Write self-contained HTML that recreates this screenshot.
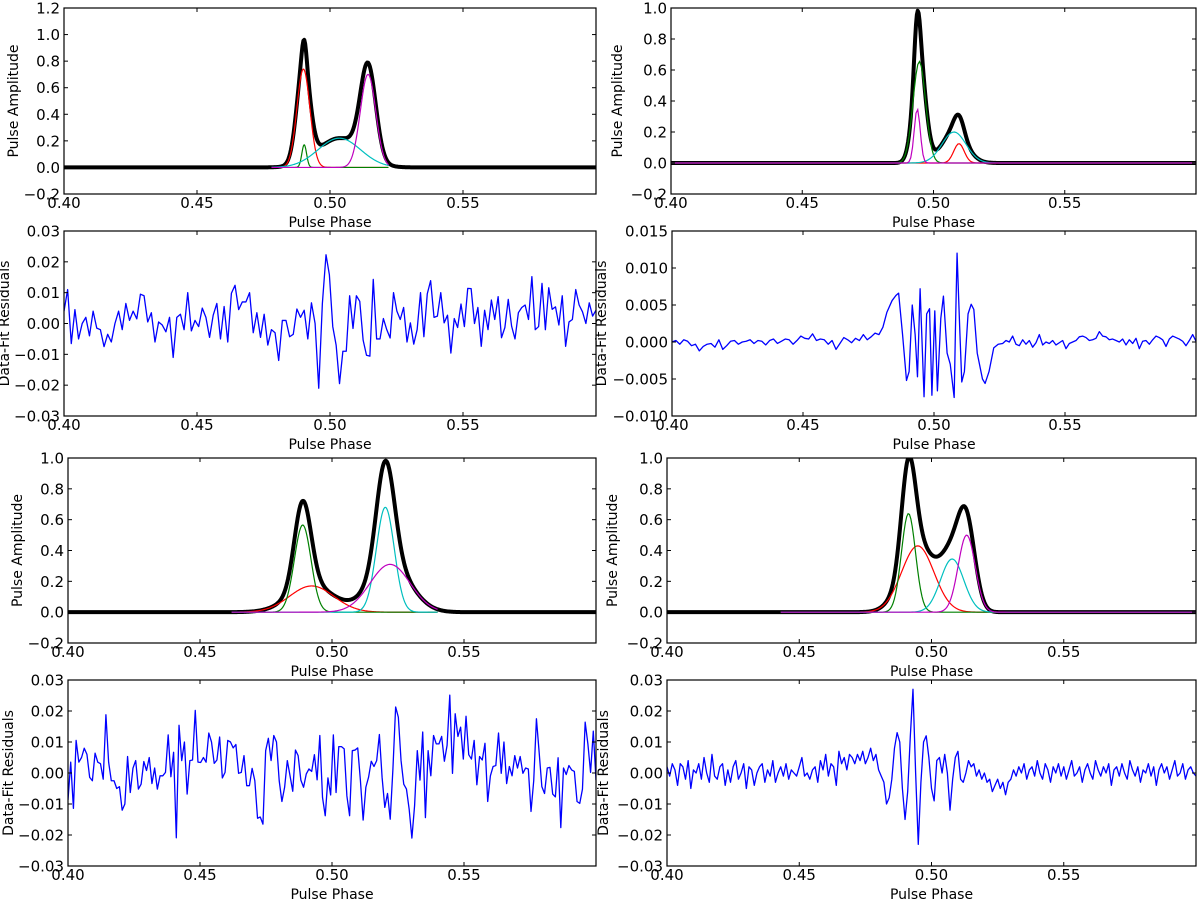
<!DOCTYPE html>
<html><head><meta charset="utf-8"><title>Pulse profile fits</title>
<style>
html,body{margin:0;padding:0;background:#fff;}
svg{display:block;}
text{font-family:"DejaVu Sans","Liberation Sans",sans-serif;fill:#000;}
</style></head>
<body>
<svg id="fig" width="1200" height="900" viewBox="0 0 1200 900" xmlns="http://www.w3.org/2000/svg"></svg>
<script>
// ---------- data ----------
const xTicks = [0.40, 0.45, 0.50, 0.55];
const xTickLabels = ["0.40", "0.45", "0.50", "0.55"];
const compColors = ["#ff0000", "#008000", "#00bfbf", "#bf00bf"];
const compNames = ["red", "green", "cyan", "magenta"];

// Panel A (top-left) gaussian components: red, green, cyan, magenta
const aAmp = [0.74, 0.17, 0.22, 0.70];
const aCen = [0.4900, 0.4903, 0.5035, 0.5143];
const aSig = [0.00244, 0.00090, 0.0080, 0.0029];
// Panel B (top-right)
const bAmp = [0.125, 0.655, 0.20, 0.35];
const bCen = [0.5097, 0.4946, 0.5078, 0.4938];
const bSig = [0.0020, 0.0024, 0.0046, 0.00114];
// Panel C (third row left)
const cAmp = [0.17, 0.565, 0.68, 0.31];
const cCen = [0.4923, 0.4889, 0.5202, 0.5220];
const cSig = [0.0084, 0.00315, 0.0034, 0.0076];
// Panel D (third row right)
const dAmp = [0.43, 0.64, 0.345, 0.50];
const dCen = [0.4948, 0.4913, 0.5078, 0.5133];
const dSig = [0.0061, 0.00266, 0.0044, 0.0032];

// Residuals (units of 0.001)
const resA = [4,11,-6.5,4.5,-5,0,2,-4,4,-1.5,-2,-7.5,-3.5,-6,0,4,-2,6.5,1,4,1.5,9.5,9,0.5,3.5,-6,0.5,-0.5,-2.7,2,-11,2,3,-2,10,-2.4,1,-1,5,2,-4.5,2.7,6.5,-5,5.5,-6,9.8,12.4,4.5,7,7,10,-3,3.5,-4.5,3,-7,-2,-3,-12,1,1,-4.3,-3.5,4.7,2,4.3,-5,6.7,0,-21,6.5,22.3,15.8,-1,-7,-19.5,-9,-9,9,-1.6,9,7.2,-5.4,-10.3,-10.6,14.3,-5,-5,1.6,-2,-4.7,10,4,1.3,5.2,-6,0.2,-6.7,-2,10,-4.3,9.6,13.9,2,2.4,10,0.2,2.7,-9.6,1.6,-1.3,6.3,-1,11.4,11.3,0,5.2,-7.4,4.3,-2,7.6,1.3,8.7,-4.6,-1.3,7.8,-0.9,-5,3.5,5.2,6,1.3,15.2,-2,-1,13,-2,11.6,4.6,5.4,-0.5,9,-7.4,0.5,1.3,11,6,3.8,0,6.7,2.4,4.3];
const resASpikeIndex = 72;
const resASpikePhase = 0.4985;
const resBLeft = [0.0,0.2,-0.3,0.3,0.1,-0.5,-0.3,-1.2,-0.6,-0.3,-0.2,-0.7,0.3,-1.0,-0.5,0.1,0.2,-0.3,0.0,0.1,0.3,-0.2,0.2,0.1,-0.4,0.2,0.4,-0.2,0.1,0.4,0.3,-0.3,0.2,0.8,0.5,0.4,1.1,0.2,0.4,0.3,-0.3,0.2,-1.0,-0.2,0.6,0.3,-0.1,0.5,0.2,1.0,0.3,0.7,1.2];
const resBBurstPhase = [0.4790,0.4805,0.4820,0.4840,0.4855,0.4865,0.4880,0.4895,0.4905,0.4917,0.4928,0.4937,0.4947,0.4962,0.4972,0.4983,0.4992,0.5003,0.5013,0.5026,0.5036,0.5050,0.5062,0.5077,0.5082,0.5088,0.5098,0.5106,0.5116,0.5130,0.5142,0.5152,0.5165,0.5185,0.5195,0.5210,0.5228,0.5245];
const resBBurst = [1.0,2.0,4.0,5.6,6.3,6.6,1.0,-5.2,-4.0,5.0,1.0,-4.7,7.2,-7.4,3.8,4.5,-7.2,4.2,-6.6,3.2,6.2,-1.5,-3.0,-7.5,2.0,12.0,2.0,-5.4,-4.0,3.8,5.1,4.4,-1.5,-5.0,-5.6,-4.0,-0.8,-0.3];
const resBRight = [-0.2,0.2,0.0,0.8,-0.3,-0.5,0.3,-0.3,0.2,-0.7,-0.1,1.0,-0.4,0.0,-0.2,0.2,-0.4,-0.1,0.2,-0.9,-0.2,0.0,0.2,0.7,0.8,0.6,0.2,0.3,0.5,1.4,0.8,0.7,0.3,0.4,0.2,0.0,0.4,-0.4,0.3,-0.2,0.5,-0.9,0.1,0.2,-0.3,0.3,0.8,0.6,0.3,-0.6,0.4,0.8,0.6,0.4,0.1,-0.5,0.2,1.0,0.1];
const resC = [-8.7,3.5,-11.4,10.5,3.5,5,8,6,-1.4,-2.5,6.4,3.5,3,-2,18.8,3.5,-2.5,-2.5,-5,-4.4,-12,-10,5.3,-6.3,1.6,4,-5.2,-3.6,3.7,0.8,5,-3.4,1.6,-5.2,-0.9,-0.9,0.2,12.3,-1.2,6.7,-20.9,15.4,4,10,-6.8,4,4.2,20.2,3.5,3.4,5,3.5,12.9,10,3.1,4.2,11.6,-1.6,0.2,10.5,10,8.1,9.2,-0.1,0.2,5.6,-4.1,-4.1,1.5,-2.5,-14.6,-14.2,-16.5,7.2,11.2,4,12.1,10,-2.5,-9.2,-4.6,4,-0.9,-5.9,7.4,5.6,-2.3,-4.6,-0.3,1.3,0.5,5.9,-2.2,12.1,-7.9,-13.8,-1.6,-7.1,12.3,-6.3,8.5,8.5,7.8,-7.4,-13.8,7.2,7.4,8.1,-2.5,-15.2,-4.6,-1.4,3.8,2.1,4,12.4,-1.4,-11.1,-6.6,-14.9,1.3,21.3,18,4,-3.6,-5.2,-11.7,-21,-10.6,7.2,-2.3,13.2,-14.4,7.2,-0.9,12.1,9.4,9.4,11.8,3.8,8.9,25.1,-0.1,19.1,11.8,14.8,4.5,18.3,5.9,4.5,10.5,-3.8,5.3,4.2,9.6,-9.2,-0.9,2.1,2.4,12.9,-0.1,10,-3.4,2.1,-0.9,5.6,1.6,5.3,-0.1,1.6,1.3,-12.4,-2.5,17.5,6.7,-4.4,-6.6,1.6,1.8,-6.8,-7.7,4.9,-17.6,1.6,-0.5,2.4,1,0.5,-9.2,-9.8,-5.2,16.4,9.4,0.2,13.5,-2.3];
const resD = [2,-1,3,1,-4,3,2,-2,4,-5,1,0,3,-2,5,0,-3,6,-1,-2,2,
3,-4,1,-3,2,4,-2,0,3,-5,2,1,-4,0,2,3,-3,1,-1,4,
-3,0,2,-1,3,-2,1,0,-1,2,5,-1,0,-2,1,
2,-3,4,1,6,-1,3,2,-4,7,3,5,1,6,5,3,6,4,7,3,5,8,4,6,
1,-1,-3,-10,-8,-2,8,13,10,-5,-15,-6,12,27,0,-23,-3,10,12,5,-5,-9,4,5,0,6,0,-12,-2,5,7,-2,
-3,0,4,2,3,-1,1,-2,0,-3,-2,-6,-4,-2,-5,-3,-7,-3,-2,
1,-1,2,0,3,-2,1,2,-1,4,0,-2,3,1,-3,2,0,3,-1,2,-2,1,4,-1,0,2,-3,1,3,0,-2,4,1,-1,2,0,3,-4,1,2,-1,3,0,-2,4,1,-1,2,-3,1,0,3,-1,2,-4,1,3,0,2,-2,1,4,-1,0,3,-2,1,2,0,-1];

const ampTicks12 = [-0.2,0,0.2,0.4,0.6,0.8,1.0,1.2];
const ampLabels12 = ["\u22120.2","0.0","0.2","0.4","0.6","0.8","1.0","1.2"];
const ampTicks10 = [-0.2,0,0.2,0.4,0.6,0.8,1.0];
const ampLabels10 = ["\u22120.2","0.0","0.2","0.4","0.6","0.8","1.0"];
const res3Ticks = [-0.03,-0.02,-0.01,0,0.01,0.02,0.03];
const res3Labels = ["\u22120.03","\u22120.02","\u22120.01","0.00","0.01","0.02","0.03"];
const res15Ticks = [-0.010,-0.005,0,0.005,0.010,0.015];
const res15Labels = ["\u22120.010","\u22120.005","0.000","0.005","0.010","0.015"];

// ---------- drawing ----------
const NS = "http://www.w3.org/2000/svg";
const fig = document.getElementById("fig");
function mk(tag, attrs, parent){
  const e = document.createElementNS(NS, tag);
  for (const k in attrs) e.setAttribute(k, attrs[k]);
  (parent || fig).appendChild(e);
  return e;
}
let clipId = 0;
function makePanel(name, L, T, R, B, ymin, ymax, yTicks, yLabels, ylabel, ylabelX){
  const g = mk("g", {});
  
  
  const xs = p => L + (p - 0.4) / 0.2 * (R - L);
  const ys = v => B - (v - ymin) / (ymax - ymin) * (B - T);
  clipId++;
  const cp = mk("clipPath", {id: "c" + clipId}, g);
  mk("rect", {x: L, y: T, width: R - L, height: B - T}, cp);
  const plot = mk("g", {"clip-path": "url(#c" + clipId + ")"}, g);
  
  
  xTicks.concat([0.6]).forEach((t, i) => {
    const x = xs(t);
    mk("line", {x1: x, y1: B, x2: x, y2: B - 4, stroke: "#000", "stroke-width": 1}, g);
    mk("line", {x1: x, y1: T, x2: x, y2: T + 4, stroke: "#000", "stroke-width": 1}, g);
    if (i < xTickLabels.length) {
      const tx = mk("text", {x: x, y: B + 14, "font-size": 15, "text-anchor": "middle"}, g);
      tx.textContent = xTickLabels[i];
      
      
    }
  });
  yTicks.forEach((t, i) => {
    const y = ys(t);
    mk("line", {x1: L, y1: y, x2: L + 4, y2: y, stroke: "#000", "stroke-width": 1}, g);
    mk("line", {x1: R, y1: y, x2: R - 4, y2: y, stroke: "#000", "stroke-width": 1}, g);
    const ty = mk("text", {x: L - 4, y: y + 5.5, "font-size": 15, "text-anchor": "end"}, g);
    ty.textContent = yLabels[i];
    
    
  });
  const xl = mk("text", {x: (L + R) / 2, y: B + 33, "font-size": 14, "text-anchor": "middle"}, g);
  xl.textContent = "Pulse Phase";
  
  
  const cy = (T + B) / 2;
  const yl = mk("text", {x: ylabelX, y: cy, "font-size": 14, "text-anchor": "middle", transform: "rotate(-90 " + ylabelX + " " + cy + ")"}, g);
  yl.textContent = ylabel;
  
  
  const frame = mk("rect", {x: L, y: T, width: R - L, height: B - T, fill: "none", stroke: "#000", "stroke-width": 1.2}, g);
  
  
  return {g, plot, xs, ys};
}
function gauss(a, c, s, p){ return a * Math.exp(-((p - c) * (p - c)) / (2 * s * s)); }
function pulsePanel(P, amps, cens, sigs, lo, hi){
  const N = 600;
  let d = "";
  for (let i = 0; i <= N; i++) {
    const p = 0.4 + 0.2 * i / N;
    let v = 0;
    for (let k = 0; k < amps.length; k++) v += gauss(amps[k], cens[k], sigs[k], p);
    d += (i ? "L" : "M") + P.xs(p).toFixed(2) + "," + P.ys(v).toFixed(2);
  }
  const tot = mk("path", {d: d, fill: "none", stroke: "#000", "stroke-width": 4, "stroke-linejoin": "round"}, P.plot);
  
  
  for (let k = 0; k < amps.length; k++) {
    let dc = "";
    const M = 300;
    for (let i = 0; i <= M; i++) {
      const p = lo + (hi - lo) * i / M;
      dc += (i ? "L" : "M") + P.xs(p).toFixed(2) + "," + P.ys(gauss(amps[k], cens[k], sigs[k], p)).toFixed(2);
    }
    const c = mk("path", {d: dc, fill: "none", stroke: compColors[k], "stroke-width": 1.2}, P.plot);
    
    
  }
}
function residPanel(P, phases, vals, scale){
  let d = "";
  for (let i = 0; i < vals.length; i++) {
    d += (i ? "L" : "M") + P.xs(phases[i]).toFixed(2) + "," + P.ys(vals[i] * scale).toFixed(2);
  }
  const r = mk("path", {d: d, fill: "none", stroke: "#0000ff", "stroke-width": 1.3, "stroke-linejoin": "round"}, P.plot);
  
  
}
function uniformPhases(n, start, end){
  const out = [];
  for (let i = 0; i < n; i++) out.push(start + (end - start) * i / (n - 1));
  return out;
}

const PA = makePanel("pulse-panel-a", 64, 8, 596, 194, -0.2, 1.2, ampTicks12, ampLabels12, "Pulse Amplitude", 18);
pulsePanel(PA, aAmp, aCen, aSig, 0.478, 0.522);
const PB = makePanel("pulse-panel-b", 671, 8, 1196, 194, -0.2, 1.0, ampTicks10, ampLabels10, "Pulse Amplitude", 622);
pulsePanel(PB, bAmp, bCen, bSig, 0.40, 0.60);
const RA = makePanel("residual-panel-a", 64, 231, 596, 416, -0.03, 0.03, res3Ticks, res3Labels, "Data-Fit Residuals", 9);
const raPh = uniformPhases(resASpikeIndex + 1, 0.4, resASpikePhase).concat(uniformPhases(resA.length - resASpikeIndex, resASpikePhase, 0.6).slice(1));
residPanel(RA, raPh, resA, 0.001);
const RB = makePanel("residual-panel-b", 672, 231, 1196, 416, -0.010, 0.015, res15Ticks, res15Labels, "Data-Fit Residuals", 606);
const rbPh = uniformPhases(resBLeft.length, 0.4, 0.4775).concat(resBBurstPhase, uniformPhases(resBRight.length, 0.5262, 0.6));
const rbV = resBLeft.concat(resBBurst, resBRight);
residPanel(RB, rbPh, rbV, 0.001);
const PC = makePanel("pulse-panel-c", 68, 458, 596, 643, -0.2, 1.0, ampTicks10, ampLabels10, "Pulse Amplitude", 22);
pulsePanel(PC, cAmp, cCen, cSig, 0.462, 0.540);
const PD = makePanel("pulse-panel-d", 667, 458, 1196, 643, -0.2, 1.0, ampTicks10, ampLabels10, "Pulse Amplitude", 617);
pulsePanel(PD, dAmp, dCen, dSig, 0.443, 0.60);
const RC = makePanel("residual-panel-c", 68, 680, 596, 866, -0.03, 0.03, res3Ticks, res3Labels, "Data-Fit Residuals", 13);
residPanel(RC, uniformPhases(resC.length, 0.4, 0.6), resC, 0.001);
const RD = makePanel("residual-panel-d", 667, 680, 1196, 866, -0.03, 0.03, res3Ticks, res3Labels, "Data-Fit Residuals", 608);
residPanel(RD, uniformPhases(resD.length, 0.4, 0.6), resD, 0.001);
</script>
</body></html>
